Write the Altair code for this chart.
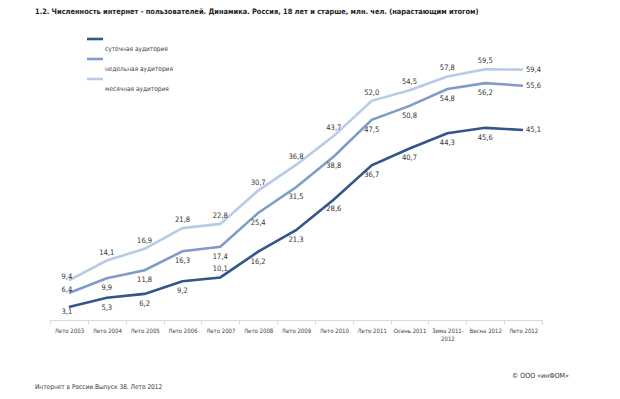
import altair as alt
import pandas as pd

title_text = "1.2. Численность  интернет - пользователей. Динамика. Россия, 18 лет и старше, млн. чел. (нарастающим итогом)"
footer_left = "Интернет в России.Выпуск 38. Лето 2012"
footer_right = "© ООО «инФОМ»"

categories = ["Лето 2003", "Лето 2004", "Лето 2005", "Лето 2006", "Лето 2007",
              "Лето 2008", "Лето 2009", "Лето 2010", "Лето 2011", "Осень 2011",
              "Зима 2011-2012", "Весна 2012", "Лето 2012"]
series_names = ["суточная аудитория", "недельная аудитория", "месячная аудитория"]
daily = [3.1, 5.3, 6.2, 9.2, 10.1, 16.2, 21.3, 28.6, 36.7, 40.7, 44.3, 45.6, 45.1]
weekly = [6.4, 9.9, 11.8, 16.3, 17.4, 25.4, 31.5, 38.8, 47.5, 50.8, 54.8, 56.2, 55.6]
monthly = [9.4, 14.1, 16.9, 21.8, 22.8, 30.7, 36.8, 43.7, 52.0, 54.5, 57.8, 59.5, 59.4]
series_colors = ["#34558b", "#7f9cc9", "#b8cbe6"]

# label placement codes (style only): a=above, b=below, r=right, s=start, t=start-below
daily_place = ["t", "b", "b", "b", "a", "b", "b", "b", "b", "b", "b", "b", "r"]
weekly_place = ["s", "b", "b", "b", "b", "b", "b", "b", "b", "b", "b", "b", "r"]
monthly_place = ["s", "a", "a", "a", "a", "a", "a", "a", "a", "a", "a", "a", "r"]

FONT = "Liberation Sans Narrow, DejaVu Sans Condensed, Liberation Sans, sans-serif"
TXT = "#333333"

rows = []
for name, vals, places in zip(series_names, [daily, weekly, monthly],
                              [daily_place, weekly_place, monthly_place]):
    for c, v, p in zip(categories, vals, places):
        rows.append({"cat": c, "series": name, "value": v,
                     "label": f"{v:.1f}".replace(".", ","), "place": p})
df = pd.DataFrame(rows)

x_enc = alt.X("cat:N", sort=categories,
              scale=alt.Scale(type="band", domain=categories, paddingInner=0, paddingOuter=0),
              axis=alt.Axis(title=None, labelAngle=0, tickBand="extent", grid=False,
                            domainColor="#d9d9d9", tickColor="#d9d9d9", tickSize=4,
                            labelFont=FONT, labelFontSize=6, labelColor="#404040",
                            labelPadding=3, labelBaseline="top",
                            labelExpr="datum.value == 'Зима 2011-2012' ? ['Зима 2011-', '2012'] : datum.label"))
y_enc = alt.Y("value:Q", scale=alt.Scale(domain=[0, 70]), axis=None)
color_enc = alt.Color("series:N", scale=alt.Scale(domain=series_names, range=series_colors), legend=None)

base = alt.Chart(df)
lines = base.mark_line(strokeWidth=2.6, interpolate="linear").encode(
    x=x_enc, y=y_enc, color=color_enc,
    order=alt.Order("cat_idx:Q")
).transform_calculate(cat_idx="indexof(" + str(categories).replace("'", '"') + ", datum.cat)")

offsets = {"a": dict(dy=-8), "b": dict(dy=10), "r": dict(dx=3, align="left", dy=0),
           "s": dict(dx=-2, dy=-3), "t": dict(dx=-2, dy=5)}
label_layers = []
for code, kw in offsets.items():
    label_layers.append(
        base.transform_filter(alt.datum.place == code).mark_text(
            font=FONT, fontSize=7.5, color=TXT, baseline="middle", **kw
        ).encode(x=x_enc, y=y_enc, text="label:N")
    )

# legend
legend_layers = []
for i, (name, col) in enumerate(zip(series_names, series_colors)):
    ldf = pd.DataFrame({"series": [name]})
    legend_layers.append(alt.Chart(ldf).mark_rule(color=col, strokeWidth=2.6).encode(
        x=alt.value(37), x2=alt.value(53), y=alt.value(14 + 20 * i)))
    legend_layers.append(alt.Chart(ldf).mark_text(
        font=FONT, fontSize=6.5, color="#404040", align="left", baseline="middle").encode(
        x=alt.value(55), y=alt.value(24 + 20 * i), text="series:N"))

title = alt.Chart(pd.DataFrame({"t": [title_text]})).mark_text(
    font=FONT, fontSize=7.4, fontWeight="bold", color="#222222", align="left", baseline="middle"
).encode(x=alt.value(-15), y=alt.value(-13), text="t:N")
foot_l = alt.Chart(pd.DataFrame({"t": [footer_left]})).mark_text(
    font=FONT, fontSize=6.5, color=TXT, align="left", baseline="middle"
).encode(x=alt.value(-15), y=alt.value(362), text="t:N")
foot_r = alt.Chart(pd.DataFrame({"t": [footer_right]})).mark_text(
    font=FONT, fontSize=7, color=TXT, align="left", baseline="middle"
).encode(x=alt.value(462), y=alt.value(351), text="t:N")

chart = alt.layer(lines, *label_layers, *legend_layers, title, foot_l, foot_r).properties(
    width=492, height=295,
    autosize=alt.AutoSizeParams(type="none"),
    padding={"left": 42, "top": 17, "right": 70, "bottom": 71},
    background="white",
).configure_view(stroke=None)

chart.save("out.html", embed_options={"renderer": "svg", "actions": False})
